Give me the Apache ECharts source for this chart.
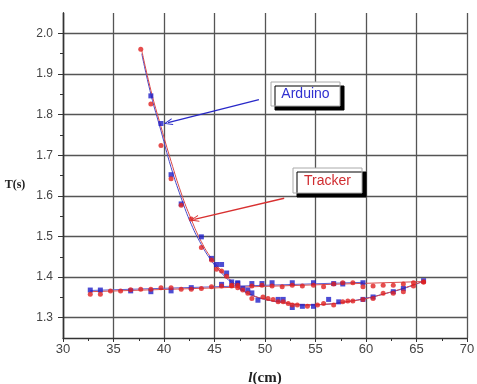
<!DOCTYPE html>
<html>
<head>
<meta charset="utf-8">
<script src="https://cdn.jsdelivr.net/npm/echarts@6/dist/echarts.min.js"></script>
<style>
  html, body { margin: 0; padding: 0; background: #fff; }
  #chart { width: 477px; height: 384px; }
</style>
</head>
<body>
<div id="chart"></div>
<script>
// 轴刻度
var xTicks = [30, 35, 40, 45, 50, 55, 60, 65, 70]
var yTicks = [1.3, 1.4, 1.5, 1.6, 1.7, 1.8, 1.9, 2.0]
var yMinorTicks = [1.35, 1.45, 1.55, 1.65, 1.75, 1.85, 1.95]

// Arduino - 下降/U 形分支
var arduinoL = [38.7, 39.7, 40.7, 41.7, 43.7, 44.7, 45.2, 45.7, 46.2, 46.7, 47.3, 47.8, 48.3, 48.7, 49.3, 51.3, 51.8, 52.7, 53.7, 54.8, 56.3, 57.3, 59.7, 60.7, 62.7, 63.7, 65.7]
var arduinoT = [1.846, 1.778, 1.652, 1.580, 1.499, 1.446, 1.431, 1.431, 1.410, 1.388, 1.384, 1.372, 1.368, 1.361, 1.343, 1.345, 1.345, 1.325, 1.328, 1.328, 1.345, 1.339, 1.345, 1.351, 1.364, 1.372, 1.391]
// Arduino - 平坦分支
var arduinoFlatL = [32.7, 33.7, 36.7, 38.7, 40.7, 42.7, 45.7, 47.3, 48.7, 49.7, 50.7, 52.7, 54.8, 56.8, 57.7, 59.7]
var arduinoFlatT = [1.368, 1.368, 1.366, 1.364, 1.366, 1.374, 1.382, 1.386, 1.384, 1.384, 1.386, 1.386, 1.386, 1.384, 1.383, 1.386]

// Tracker - 下降/U 形分支
var trackerL = [37.7, 38.7, 39.7, 40.7, 41.7, 42.7, 43.7, 44.7, 45.2, 45.7, 46.2, 46.7, 47.3, 47.8, 48.3, 48.7, 49.8, 50.3, 50.8, 51.3, 51.8, 52.3, 52.7, 53.2, 54.2, 55.2, 55.8, 56.8, 57.7, 58.2, 58.7, 59.7, 60.7, 61.7, 62.7, 63.7, 64.7, 65.7]
var trackerT = [1.961, 1.826, 1.724, 1.642, 1.577, 1.543, 1.473, 1.442, 1.419, 1.415, 1.402, 1.380, 1.374, 1.368, 1.360, 1.347, 1.351, 1.347, 1.345, 1.339, 1.339, 1.335, 1.331, 1.331, 1.328, 1.331, 1.335, 1.331, 1.339, 1.341, 1.341, 1.345, 1.347, 1.360, 1.360, 1.364, 1.378, 1.388]
// Tracker - 平坦分支
var trackerFlatL = [32.7, 33.7, 34.7, 35.7, 36.7, 37.7, 38.7, 39.7, 40.7, 41.7, 42.7, 43.7, 44.7, 45.7, 46.7, 47.3, 48.7, 49.7, 50.7, 51.7, 52.7, 53.7, 54.8, 55.8, 56.8, 57.7, 58.7, 59.7, 60.7, 61.7, 62.7, 63.7, 64.7, 65.7]
var trackerFlatT = [1.358, 1.358, 1.366, 1.366, 1.369, 1.370, 1.370, 1.374, 1.374, 1.370, 1.370, 1.372, 1.376, 1.378, 1.378, 1.380, 1.378, 1.380, 1.378, 1.376, 1.380, 1.378, 1.380, 1.376, 1.383, 1.386, 1.386, 1.376, 1.378, 1.380, 1.380, 1.383, 1.386, 1.388]

// 拟合曲线
var arduinoFitL = [37.8, 38.7, 39.7, 40.7, 41.7, 42.7, 43.7, 44.7, 45.7, 46.7, 47.7, 48.7, 50, 52, 54, 56, 58, 60, 62, 64, 65.7]
var arduinoFitT = [1.950, 1.850, 1.760, 1.670, 1.595, 1.530, 1.480, 1.440, 1.410, 1.386, 1.368, 1.355, 1.345, 1.336, 1.331, 1.333, 1.339, 1.348, 1.360, 1.374, 1.390]
var trackerFitL = [37.8, 38.7, 39.7, 40.7, 41.7, 42.7, 43.7, 44.7, 45.7, 46.7, 47.7, 48.7, 50, 52, 54, 56, 58, 60, 62, 64, 65.7]
var trackerFitT = [1.958, 1.860, 1.770, 1.685, 1.607, 1.542, 1.487, 1.446, 1.415, 1.390, 1.370, 1.356, 1.346, 1.337, 1.332, 1.333, 1.339, 1.347, 1.360, 1.375, 1.390]
var arduinoFlatFitL = [32.7, 59.7]
var arduinoFlatFitT = [1.367, 1.387]
var trackerFlatFitL = [32.7, 65.7]
var trackerFlatFitT = [1.364, 1.389]

// 标注箭头 [起点 l, 起点 T, 终点 l, 终点 T]
var arduinoArrow = [49.4, 1.837, 40.4, 1.780]
var trackerArrow = [51.9, 1.594, 43.0, 1.542]

var BLUE = '#1f1fc8'
var RED = '#e02020'

function pairs(xs, ys) {
  return xs.map(function (x, i) { return [x, ys[i]] })
}

var chart = echarts.init(document.getElementById('chart'))
var openArrow = 'path://M0,10 L5,0 L10,10 L8.6,10 L5,2.6 L1.4,10 Z'
var boxStyle = { fill: '#fff', stroke: '#aaa', lineWidth: 1, shadowColor: '#000', shadowOffsetX: 4, shadowOffsetY: 4, shadowBlur: 0 }

var option = {
  animation: false,
  grid: { left: 63, right: 10, top: 13, bottom: 46, outerBoundsMode: 'none', containLabel: false },
  xAxis: {
    type: 'value',
    min: 30,
    max: 70,
    interval: 5,
    name: '{i|l}{b|(cm)}',
    nameLocation: 'middle',
    nameGap: 33,
    nameTextStyle: {
      rich: {
        i: { fontFamily: 'Liberation Serif', fontStyle: 'italic', fontWeight: 'bold', fontSize: 15, color: '#222' },
        b: { fontFamily: 'Liberation Serif', fontWeight: 'bold', fontSize: 15, color: '#222' }
      }
    },
    axisLine: { lineStyle: { color: '#333', width: 1.3 } },
    axisTick: { show: true, length: 4, lineStyle: { color: '#333' } },
    minorTick: { show: true, splitNumber: 2, length: 3, lineStyle: { color: '#333' } },
    axisLabel: { fontSize: 13, color: '#444', fontFamily: 'Liberation Sans', margin: 5 },
    splitLine: { show: true, lineStyle: { color: '#555', width: 1.3 } }
  },
  yAxis: [
    {
      type: 'value',
      min: 1.25,
      max: 2.05,
      axisLine: { show: true, lineStyle: { color: '#333', width: 1.3 } },
      axisTick: { show: true, length: 5, customValues: yTicks, lineStyle: { color: '#333' } },
      axisLabel: { fontSize: 12, color: '#444', fontFamily: 'Liberation Sans', margin: 10, customValues: yTicks, formatter: function (v) { return v.toFixed(1) } },
      splitLine: { show: true, lineStyle: { color: '#555', width: 1.3 } }
    },
    {
      type: 'value',
      min: 1.25,
      max: 2.05,
      position: 'left',
      axisLine: { show: true, lineStyle: { color: '#333', width: 1.3 } },
      axisTick: { show: true, length: 3, customValues: yMinorTicks, lineStyle: { color: '#333' } },
      axisLabel: { show: false },
      splitLine: { show: false }
    }
  ],
  graphic: [
    {
      type: 'text',
      x: 15, y: 185,
      style: { text: 'T(s)', fill: '#222', font: 'bold 12px "Liberation Serif"', align: 'center', verticalAlign: 'middle' }
    },
    {
      type: 'rect',
      shape: { x: 271, y: 82, width: 69, height: 24 },
      style: boxStyle,
      z: 100
    },
    {
      type: 'text',
      x: 305.5, y: 94,
      style: { text: 'Arduino', fill: '#3030d0', font: '14px "Liberation Sans", Arial', align: 'center', verticalAlign: 'middle' },
      z: 101
    },
    {
      type: 'rect',
      shape: { x: 293, y: 168, width: 69, height: 25 },
      style: boxStyle,
      z: 100
    },
    {
      type: 'text',
      x: 327.5, y: 181,
      style: { text: 'Tracker', fill: '#d02c30', font: '14px "Liberation Sans", Arial', align: 'center', verticalAlign: 'middle' },
      z: 101
    }
  ],
  series: [
    {
      name: 'Arduino fit',
      type: 'line',
      data: pairs(arduinoFitL, arduinoFitT),
      smooth: true,
      showSymbol: false,
      lineStyle: { color: '#4848c8', width: 1 },
      z: 2
    },
    {
      name: 'Tracker fit',
      type: 'line',
      data: pairs(trackerFitL, trackerFitT),
      smooth: true,
      showSymbol: false,
      lineStyle: { color: '#d84848', width: 1 },
      z: 2
    },
    {
      name: 'Arduino flat fit',
      type: 'line',
      data: pairs(arduinoFlatFitL, arduinoFlatFitT),
      showSymbol: false,
      lineStyle: { color: '#6060d0', width: 1 },
      z: 2
    },
    {
      name: 'Tracker flat fit',
      type: 'line',
      data: pairs(trackerFlatFitL, trackerFlatFitT),
      showSymbol: false,
      lineStyle: { color: '#d85050', width: 1 },
      z: 2
    },
    {
      name: 'Arduino',
      type: 'scatter',
      symbol: 'rect',
      symbolSize: 5,
      itemStyle: { color: BLUE },
      data: pairs(arduinoL, arduinoT).concat(pairs(arduinoFlatL, arduinoFlatT)),
      z: 3
    },
    {
      name: 'Tracker',
      type: 'scatter',
      symbol: 'circle',
      symbolSize: 5,
      itemStyle: { color: RED },
      data: pairs(trackerL, trackerT).concat(pairs(trackerFlatL, trackerFlatT)),
      z: 4
    },
    {
      name: 'arrows',
      type: 'line',
      data: [],
      markLine: {
        silent: true,
        label: { show: false },
        symbolSize: [7, 9],
        data: [
          [
            { coord: [arduinoArrow[0], arduinoArrow[1]], symbol: 'none', lineStyle: { color: '#2828c8', width: 1.3, type: 'solid' } },
            { coord: [arduinoArrow[2], arduinoArrow[3]], symbol: openArrow }
          ],
          [
            { coord: [trackerArrow[0], trackerArrow[1]], symbol: 'none', lineStyle: { color: '#d83030', width: 1.3, type: 'solid' } },
            { coord: [trackerArrow[2], trackerArrow[3]], symbol: openArrow }
          ]
        ]
      }
    }
  ]
}
chart.setOption(option)
</script>
</body>
</html>
